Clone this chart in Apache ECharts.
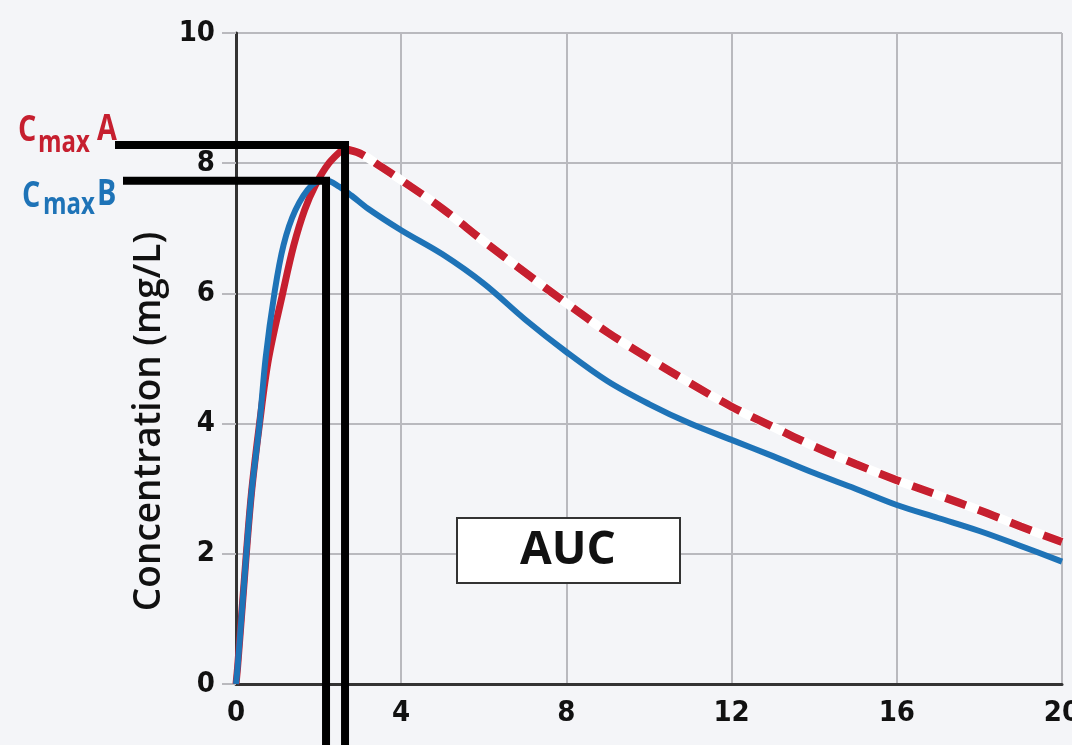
<!DOCTYPE html>
<html><head><meta charset="utf-8">
<script src="https://cdn.jsdelivr.net/npm/echarts@6/dist/echarts.min.js"></script>
<style>html,body{margin:0;padding:0;background:#f4f5f8}#c{width:1072px;height:745px}</style>
</head><body><div id="c"></div><script>
// Product B (blue, solid)
const timeB = [0,0.04,0.25,0.38,0.57,0.72,0.93,1.15,1.44,1.83,2.17,2.5,2.8,3.2,4,5,6,7,8,9,10,11,12,13,14,15,16,17,18,19,20];
const concB = [0,0.27,2.0,2.97,4.0,5.02,6.0,6.74,7.28,7.66,7.74,7.64,7.5,7.3,6.97,6.6,6.15,5.6,5.1,4.65,4.3,4.0,3.75,3.5,3.24,3.0,2.75,2.55,2.35,2.12,1.88];
// Product A (red) rising part (solid) and falling part (dashed)
const timeARise = [0,0.04,0.25,0.38,0.57,0.79,1.13,1.4,1.66,1.92,2.25,2.6];
const concARise = [0,0.27,2.0,2.97,4.0,5.0,6.0,6.74,7.28,7.66,8.0,8.22];
const timeAFall = [2.6,3.0,3.5,4,5,6,7,8,9,10,11,12,13,14,15,16,17,18,19,20];
const concAFall = [8.22,8.15,7.95,7.74,7.3,6.8,6.32,5.85,5.4,5.0,4.62,4.26,3.95,3.65,3.38,3.13,2.9,2.67,2.42,2.18];
// Cmax markers [time, concentration]
const cmaxA = [2.64, 8.28];
const cmaxB = [2.18, 7.73];
const xAxisRange = [0, 20, 4];
const yAxisRange = [0, 10, 2];
const yAxisTitle = 'Concentration (mg/L)';
const boxLabel = 'AUC';

const zip = (a, b) => a.map((v, i) => [v, b[i]]);
const RED = '#c61f2f', BLUE = '#1e73b7', GRID = '#b9b9be';
const tickFont = 'Liberation Sans Narrow, DejaVu Sans Condensed, Arial Narrow, sans-serif';
const labelFont = '"Open Sans", sans-serif';

const chart = echarts.init(document.getElementById('c'));
chart.setOption({
  animation: false,
  backgroundColor: '#f4f5f8',
  grid: {left: 236, right: 10, top: 33, bottom: 61, containLabel: false, outerBoundsMode: 'none'},
  xAxis: {
    type: 'value', min: xAxisRange[0], max: xAxisRange[1], interval: xAxisRange[2],
    axisLine: {show: true, lineStyle: {color: '#333', width: 3}},
    axisTick: {show: false},
    splitLine: {show: true, lineStyle: {color: GRID, width: 2}},
    axisLabel: {margin: 15, color: '#111', fontSize: 29, fontWeight: 'bold', fontFamily: tickFont}
  },
  yAxis: {
    type: 'value', min: yAxisRange[0], max: yAxisRange[1], interval: yAxisRange[2],
    name: yAxisTitle, nameLocation: 'middle', nameGap: 51, nameRotate: 90,
    nameTextStyle: {fontSize: 37, fontWeight: 600, color: '#111', fontFamily: labelFont, padding: [0, 126, 0, 0]},
    axisLine: {show: true, lineStyle: {color: '#333', width: 3}},
    axisTick: {show: true, length: 14, lineStyle: {color: GRID, width: 2}},
    splitLine: {show: true, lineStyle: {color: GRID, width: 2}},
    axisLabel: {margin: 21, color: '#111', fontSize: 29, fontWeight: 'bold', fontFamily: tickFont}
  },
  series: [
    {type: 'line', data: zip(timeARise, concARise), smooth: 0.35, symbol: 'none', z: 2,
      lineStyle: {color: RED, width: 7}},
    {type: 'line', data: zip(timeB, concB), smooth: 0.35, symbol: 'none', z: 3,
      lineStyle: {color: BLUE, width: 6}},
    {type: 'line', data: zip(timeAFall, concAFall), smooth: 0.35, symbol: 'none', z: 4,
      lineStyle: {color: '#ffffff', width: 9}},
    {type: 'line', data: zip(timeAFall, concAFall), smooth: 0.35, symbol: 'none', z: 5,
      lineStyle: {color: RED, width: 8, type: [22, 13]}}
  ]
});

// Cmax guide lines: from the label to the peak point, then down past the axis
const pA = chart.convertToPixel({gridIndex: 0}, cmaxA);
const pB = chart.convertToPixel({gridIndex: 0}, cmaxB);
const H = chart.getHeight();
const guide = (pts) => ({type: 'polyline', z: 30, shape: {points: pts},
  style: {stroke: '#000', lineWidth: 8, fill: null, lineJoin: 'miter', lineCap: 'butt'}});
const txt = (t, x, y, size, sx, color) => ({type: 'text', x: x, y: y, z: 31, scaleX: sx,
  style: {text: t, fill: color, font: 'bold ' + size + 'px ' + labelFont, textAlign: 'left', textVerticalAlign: 'bottom'}});

chart.setOption({
  graphic: [
    {type: 'rect', shape: {x: 457, y: 518, width: 223, height: 65}, z: 20,
      style: {fill: '#ffffff', stroke: '#333', lineWidth: 2}},
    {type: 'text', x: 568, y: 551, z: 21,
      style: {text: boxLabel, fill: '#111', font: 'bold 46px ' + labelFont, textAlign: 'center', textVerticalAlign: 'middle'}},
    guide([[115, pA[1]], [pA[0], pA[1]], [pA[0], H + 10]]),
    guide([[123, pB[1]], [pB[0], pB[1]], [pB[0], H + 10]]),
    txt('C', 18, 149, 36, 0.8, RED),
    txt('max', 38, 158, 30, 0.8, RED),
    txt('A', 97, 148, 36, 0.8, RED),
    txt('C', 22, 215, 36, 0.8, BLUE),
    txt('max', 43, 220, 30, 0.8, BLUE),
    txt('B', 97, 213, 36, 0.8, BLUE)
  ]
});
</script></body></html>
